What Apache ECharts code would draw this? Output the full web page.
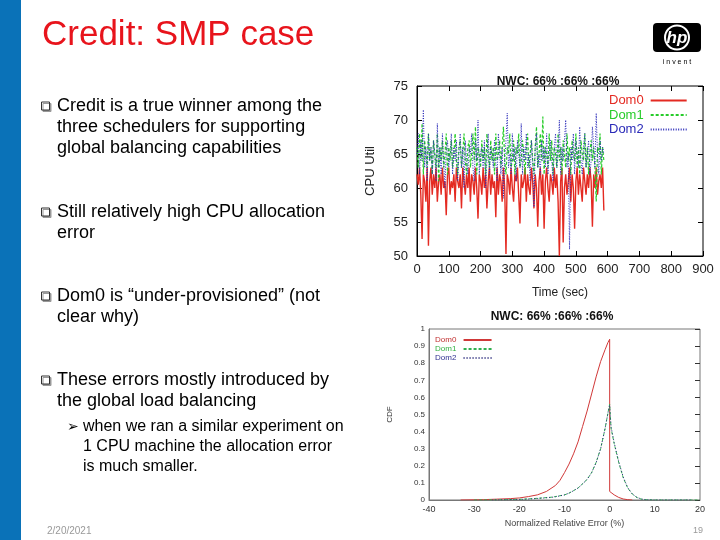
<!DOCTYPE html>
<html>
<head>
<meta charset="utf-8">
<script src="https://cdn.jsdelivr.net/npm/echarts@6/dist/echarts.min.js"></script>
<style>
  html, body { margin: 0; padding: 0; background: #fff; }
  #slide { width: 720px; height: 540px; }
</style>
</head>
<body>
<div id="slide"></div>
<script>
// top plot: CPU util sampled every 4 sec (0..588)
const sampleStep = 4;
const dom0Util = [
  62, 60.5, 63, 59, 52.5, 62, 61, 58, 63, 51.5,
  61, 63, 59, 62, 60, 63, 58, 61, 62, 59,
  63, 60, 61, 56, 62, 63, 59, 61, 60, 62,
  58, 63, 61, 60, 62, 57, 63, 61, 59, 62,
  60, 63, 58, 62, 61, 59, 63, 60, 55.5, 62,
  61, 59, 63, 60, 62, 57, 61, 63, 59, 62,
  60, 61, 55.7, 63, 59, 62, 61, 58, 63, 60,
  50.3, 62, 61, 59, 63, 60, 58, 62, 61, 63,
  59, 54.8, 62, 60, 61, 63, 58, 62, 60, 59,
  63, 61, 57, 62, 60, 54.3, 61, 63, 59, 62,
  54, 61, 63, 60, 58, 62, 61, 59, 63, 60,
  62, 58, 50, 61, 63, 52, 60, 62, 59, 61,
  63, 58, 62, 60, 54, 61, 63, 59, 62, 60,
  58, 63, 61, 59, 62, 60, 63, 61, 54.3, 62,
  60, 63, 59, 61, 62, 60, 63, 56.7
];
const dom1Util = [
  66, 63, 68, 64, 69.5, 62, 67, 65, 63, 68,
  64, 66, 62, 67, 65, 63, 68, 61, 66, 64,
  67, 63, 65, 68, 62, 66, 64, 67, 63, 65,
  68, 64, 62, 66, 67, 63, 65, 68, 64, 62,
  66, 67, 63, 65, 68, 64, 69, 62, 66, 65,
  63, 67, 64, 66, 62, 68, 65, 63, 67, 64,
  66, 62, 68, 64, 65, 67, 63, 66, 69, 64,
  62, 66, 65, 68, 63, 64, 67, 62, 66, 65,
  68, 63, 64, 67, 65, 62, 66, 68, 63, 65,
  67, 64, 62, 66, 69, 63, 65, 68, 64, 70.5,
  62, 66, 65, 63, 68, 64, 67, 62, 66, 65,
  63, 68, 64, 66, 62, 67, 65, 63, 68, 64,
  66, 62, 67, 65, 64, 68, 63, 66, 62, 67,
  65, 64, 68, 63, 66, 62, 65, 67, 64, 66,
  63, 58, 66, 65, 68, 62, 66, 64
];
const dom2Util = [
  65, 68, 62, 67, 64, 71.5, 63, 66, 61, 68,
  64, 66, 62, 67, 65, 61, 69.5, 63, 66, 62,
  68, 64, 60, 66, 67, 63, 65, 68, 62, 66,
  64, 67, 61, 65, 68, 63, 66, 60, 67, 64,
  62, 66, 65, 68, 63, 61, 67, 64, 70, 62,
  65, 66, 63, 67, 60, 64, 68, 62, 66, 65,
  63, 67, 64, 61, 68, 65, 62, 66, 58.5, 64,
  67, 71, 63, 65, 62, 68, 64, 66, 61, 67,
  65, 63, 69.5, 62, 66, 64, 68, 63, 65, 61,
  67, 64, 57.2, 66, 68, 63, 65, 62, 67, 64,
  66, 63, 68, 62, 65, 67, 64, 61, 66, 68,
  63, 65, 70, 62, 66, 64, 67, 70, 63, 65,
  51, 66, 64, 68, 62, 67, 65, 63, 69, 64,
  62, 66, 68, 63, 65, 67, 62, 64, 69, 66,
  63, 71, 65, 62, 67, 64, 66, 65
];

// bottom plot: distribution of normalized relative error
const dom0ErrX = [-33, -28, -25, -22, -20, -18, -16, -14, -12, -11, -10, -9, -8, -7, -6, -5, -4, -3, -2, -1, -0.4, 0, 0, 0.5, 1, 2, 3, 4, 5];
const dom0ErrY = [0, 0.002, 0.005, 0.008, 0.012, 0.02, 0.03, 0.05, 0.085, 0.115, 0.16, 0.21, 0.27, 0.34, 0.43, 0.52, 0.62, 0.72, 0.81, 0.88, 0.92, 0.94, 0.05, 0.04, 0.03, 0.015, 0.006, 0.002, 0];
const dom1ErrX = [-30, -25, -20, -17, -15, -13, -12, -11, -10, -9, -8, -7, -6, -5, -4, -3, -2, -1, -0.3, 0, 0.3, 1, 2, 3, 4, 5, 6, 7, 8, 10, 15, 20];
const dom1ErrY = [0, 0.001, 0.004, 0.008, 0.012, 0.016, 0.02, 0.025, 0.03, 0.04, 0.055, 0.07, 0.095, 0.12, 0.16, 0.22, 0.3, 0.42, 0.52, 0.56, 0.42, 0.33, 0.22, 0.13, 0.07, 0.035, 0.015, 0.005, 0.002, 0, 0, 0];
const dom2ErrX = [-26, -20, -17, -15, -13, -12, -11, -10, -9, -8, -7, -6, -5, -4, -3, -2, -1, -0.3, 0, 0.3, 1, 2, 3, 4, 5, 6, 7, 8, 10, 14, 18];
const dom2ErrY = [0, 0.003, 0.007, 0.011, 0.015, 0.019, 0.024, 0.03, 0.04, 0.054, 0.07, 0.094, 0.12, 0.16, 0.218, 0.3, 0.42, 0.52, 0.555, 0.43, 0.335, 0.225, 0.135, 0.072, 0.036, 0.016, 0.006, 0.002, 0, 0, 0];

const plotTitle = "NWC: 66% :66% :66%";
const slideTitle = "Credit: SMP case";
const bullets = [
  ["Credit is a true winner among the", "three schedulers for supporting", "global balancing capabilities"],
  ["Still relatively high CPU allocation", "error"],
  ["Dom0 is \u201cunder-provisioned\u201d (not", "clear why)"],
  ["These errors mostly introduced by", "the global load balancing"],
];
const bulletTops = [106, 212, 296, 380];
const subBullet = ["when we ran a similar experiment on", "1 CPU machine the allocation error", "is much smaller."];
const slideDate = "2/20/2021";
const pageNo = "19";

const FONT = '"Liberation Sans", Arial, Helvetica, sans-serif';
const RED = "#e42a22", GREEN = "#27cc2a", BLUE = "#2a2ab8";
const LH = 21;

function pairs(xs, ys) {
  return xs.map(function (x, i) { return [x, ys[i]]; });
}
function timed(vals) {
  return vals.map(function (v, i) { return [i * sampleStep, v]; });
}

// slide decoration and text
const graphics = [
  { type: "rect", shape: { x: 0, y: 0, width: 21, height: 540 }, style: { fill: "#0a72b8" } },
  { type: "text", x: 42, y: 35, style: { text: slideTitle, font: "35px " + FONT, fill: "#e8141c", textVerticalAlign: "middle", verticalAlign: "middle" } },
  { type: "rect", shape: { x: 653, y: 23, width: 48, height: 29, r: 4 }, style: { fill: "#000" } },
  { type: "circle", shape: { cx: 677, cy: 37.5, r: 12 }, style: { fill: "#000", stroke: "#fff", lineWidth: 2 } },
  { type: "text", x: 677, y: 38, style: { text: "hp", font: "italic bold 17px " + FONT, fill: "#fff", textAlign: "center", align: "center", textVerticalAlign: "middle", verticalAlign: "middle" } },
  { type: "text", x: 677, y: 62, style: { text: "i n v e n t", font: "7px " + FONT, fill: "#000", textAlign: "center", align: "center", textVerticalAlign: "middle", verticalAlign: "middle" } },
  { type: "text", x: 47, y: 531, style: { text: slideDate, font: "10px " + FONT, fill: "#999", textVerticalAlign: "middle", verticalAlign: "middle" } },
  { type: "text", x: 693, y: 531, style: { text: pageNo, font: "9px " + FONT, fill: "#999", textVerticalAlign: "middle", verticalAlign: "middle" } },
];

bullets.forEach(function (lines, b) {
  const y0 = bulletTops[b];
  graphics.push({
    type: "rect", shape: { x: 41.5, y: y0 - 4, width: 8, height: 8 },
    style: { fill: "#fff", stroke: "#333", lineWidth: 1, shadowColor: "#999", shadowOffsetX: 1.5, shadowOffsetY: 1.5 },
  });
  lines.forEach(function (t, i) {
    graphics.push({
      type: "text", x: 57, y: y0 + i * LH,
      style: { text: t, font: "18px " + FONT, fill: "#000", textVerticalAlign: "middle", verticalAlign: "middle" },
    });
  });
});

graphics.push({
  type: "text", x: 67, y: 427,
  style: { text: "\u27a2", font: "14px DejaVu Sans, sans-serif", fill: "#000", textVerticalAlign: "middle", verticalAlign: "middle" },
});
subBullet.forEach(function (t, i) {
  graphics.push({
    type: "text", x: 83, y: 427 + i * 20,
    style: { text: t, font: "16px " + FONT, fill: "#000", textVerticalAlign: "middle", verticalAlign: "middle" },
  });
});

const chart = echarts.init(document.getElementById("slide"), null, { renderer: "canvas" });

const option = {
  animation: false,
  backgroundColor: "#fff",
  textStyle: { fontFamily: FONT },
  graphic: graphics,
  title: [
    { text: plotTitle, left: 553, top: 71, textAlign: "center", textStyle: { fontSize: 12, fontWeight: "bold", color: "#111", fontFamily: FONT } },
    { text: plotTitle, left: 547, top: 306, textAlign: "center", textStyle: { fontSize: 12, fontWeight: "bold", color: "#111", fontFamily: FONT } },
  ],
  legend: [
    {
      orient: "vertical", left: 604, top: 89, align: "right",
      itemWidth: 36, itemHeight: 10, itemGap: 1.5,
      itemStyle: { opacity: 0 },
      textStyle: { fontSize: 13, fontFamily: FONT, padding: [0, 2, 0, 0] },
      data: [
        { name: "Dom0", textStyle: { color: RED } },
        { name: "Dom1", textStyle: { color: GREEN } },
        { name: "Dom2", textStyle: { color: BLUE } },
      ],
    },
    {
      orient: "vertical", left: 430, top: 331, align: "right",
      itemWidth: 28, itemHeight: 8, itemGap: 1,
      itemStyle: { opacity: 0 },
      textStyle: { fontSize: 8, fontFamily: FONT },
      data: [
        { name: "Dom0 ", textStyle: { color: "#c03030" } },
        { name: "Dom1 ", textStyle: { color: "#30b040" } },
        { name: "Dom2 ", textStyle: { color: "#303090" } },
      ],
    },
  ],
  grid: [
    { left: 417, top: 86, width: 286, height: 170, show: true, borderColor: "#000", borderWidth: 1 },
    { left: 429, top: 329, width: 271, height: 171, show: true, borderColor: "#777", borderWidth: 1 },
  ],
  xAxis: [
    {
      gridIndex: 0, type: "value", min: 0, max: 900, interval: 100,
      name: "Time (sec)", nameLocation: "middle", nameGap: 31,
      nameTextStyle: { fontSize: 12, color: "#222" },
      axisLine: { onZero: false, lineStyle: { color: "#000" } },
      axisTick: { inside: true, length: 5, lineStyle: { color: "#000" } },
      axisLabel: { fontSize: 13, color: "#222", margin: 7 },
      splitLine: { show: false },
    },
    {
      gridIndex: 0, type: "value", position: "top", min: 0, max: 900, interval: 100,
      axisLine: { show: false, onZero: false },
      axisTick: { inside: true, length: 5, lineStyle: { color: "#000" } },
      axisLabel: { show: false }, splitLine: { show: false },
    },
    {
      gridIndex: 1, type: "value", min: -40, max: 20, interval: 10,
      name: "Normalized Relative Error (%)", nameLocation: "middle", nameGap: 19,
      nameTextStyle: { fontSize: 9, color: "#444" },
      axisLine: { onZero: false, lineStyle: { color: "#777" } },
      axisTick: { show: false },
      axisLabel: { fontSize: 9, color: "#333", margin: 5 },
      splitLine: { show: false },
    },
  ],
  yAxis: [
    {
      gridIndex: 0, type: "value", min: 50, max: 75, interval: 5,
      name: "CPU Util", nameLocation: "middle", nameGap: 40,
      nameTextStyle: { fontSize: 13, color: "#222" },
      axisLine: { onZero: false, lineStyle: { color: "#000" } },
      axisTick: { inside: true, length: 5, lineStyle: { color: "#000" } },
      axisLabel: { fontSize: 13, color: "#222", margin: 9 },
      splitLine: { show: false },
    },
    {
      gridIndex: 0, type: "value", position: "right", min: 50, max: 75, interval: 5,
      axisLine: { show: false, onZero: false },
      axisTick: { inside: true, length: 5, lineStyle: { color: "#000" } },
      axisLabel: { show: false }, splitLine: { show: false },
    },
    {
      gridIndex: 1, type: "value", min: 0, max: 1, interval: 0.1,
      name: "CDF", nameLocation: "middle", nameGap: 35,
      nameTextStyle: { fontSize: 8, color: "#333" },
      axisLine: { onZero: false, lineStyle: { color: "#777" } },
      axisTick: { show: false },
      axisLabel: { fontSize: 8, color: "#333", margin: 4 },
      splitLine: { show: false },
    },
    {
      gridIndex: 1, type: "value", position: "right", min: 0, max: 1, interval: 0.1,
      axisLine: { show: false, onZero: false },
      axisTick: { inside: true, length: 5, lineStyle: { color: "#333" } },
      axisLabel: { show: false }, splitLine: { show: false },
    },
  ],
  series: [
    { name: "Dom0", type: "line", xAxisIndex: 0, yAxisIndex: 0, data: timed(dom0Util), showSymbol: false, symbol: "none", color: RED, lineStyle: { width: 1.4, color: RED } },
    { name: "Dom1", type: "line", xAxisIndex: 0, yAxisIndex: 0, data: timed(dom1Util), showSymbol: false, symbol: "none", color: GREEN, lineStyle: { width: 1.2, color: GREEN, type: [3, 2] } },
    { name: "Dom2", type: "line", xAxisIndex: 0, yAxisIndex: 0, data: timed(dom2Util), showSymbol: false, symbol: "none", color: BLUE, lineStyle: { width: 1, color: BLUE, type: [1, 1.5] } },
    { name: "Dom0 ", type: "line", xAxisIndex: 2, yAxisIndex: 2, data: pairs(dom0ErrX, dom0ErrY), showSymbol: false, symbol: "none", color: "#d03838", lineStyle: { width: 1, color: "#d03838" } },
    { name: "Dom1 ", type: "line", xAxisIndex: 2, yAxisIndex: 2, data: pairs(dom1ErrX, dom1ErrY), showSymbol: false, symbol: "none", color: "#30b050", lineStyle: { width: 1, color: "#30b050", type: [3, 2] } },
    { name: "Dom2 ", type: "line", xAxisIndex: 2, yAxisIndex: 2, data: pairs(dom2ErrX, dom2ErrY), showSymbol: false, symbol: "none", color: "#303080", lineStyle: { width: 1, color: "#303080", type: [1, 2] } },
  ],
};

chart.setOption(option);
</script>
</body>
</html>
